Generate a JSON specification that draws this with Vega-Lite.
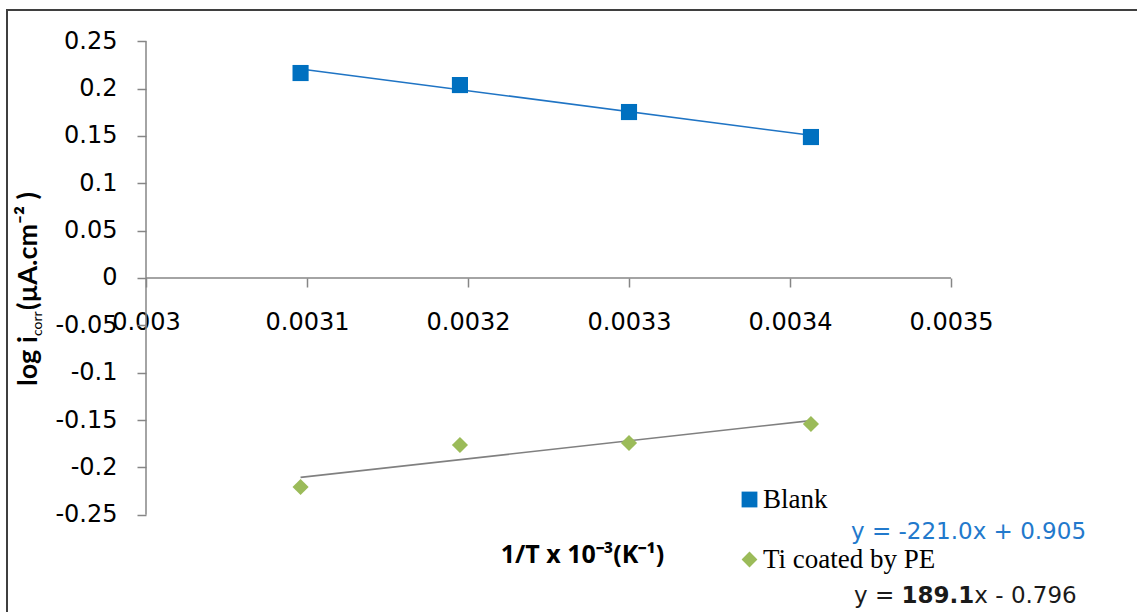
{
  "$schema": "https://vega.github.io/schema/vega-lite/v6.json",
  "width": 1140,
  "height": 610,
  "padding": {"left": 7, "top": 10, "right": 0, "bottom": 0},
  "background": "white",
  "config": {
    "view": {"stroke": "#3f3f3f", "strokeWidth": 2},
    "legend": {
      "orient": "none",
      "legendX": 729,
      "legendY": 476,
      "direction": "vertical",
      "title": null,
      "labelFont": "Liberation Serif",
      "labelFontSize": 27,
      "labelColor": "#000000",
      "labelLimit": 0,
      "symbolSize": 250,
      "rowPadding": 32,
      "labelOffset": 0,
      "padding": 0,
      "symbolStrokeWidth": 0
    }
  },
  "datasets": {
    "points": [
      {"invT": 0.003096, "logi": 0.2165, "series": "Blank"},
      {"invT": 0.003195, "logi": 0.2038, "series": "Blank"},
      {"invT": 0.0033, "logi": 0.1753, "series": "Blank"},
      {"invT": 0.003413, "logi": 0.1489, "series": "Blank"},
      {"invT": 0.003096, "logi": -0.2207, "series": "Ti coated by PE"},
      {"invT": 0.003195, "logi": -0.1764, "series": "Ti coated by PE"},
      {"invT": 0.0033, "logi": -0.1743, "series": "Ti coated by PE"},
      {"invT": 0.003413, "logi": -0.1542, "series": "Ti coated by PE"}
    ],
    "trend": [
      {"invT": 0.003096, "logi": 0.2208, "series": "Blank"},
      {"invT": 0.003413, "logi": 0.1507, "series": "Blank"},
      {"invT": 0.003096, "logi": -0.2106, "series": "Ti coated by PE"},
      {"invT": 0.003413, "logi": -0.1506, "series": "Ti coated by PE"}
    ]
  },
  "layer": [
    {
      "data": {"name": "points"},
      "mark": {"type": "point", "opacity": 0},
      "encoding": {
        "x": {
          "field": "invT", "type": "quantitative",
          "scale": {"domain": [0.00291366, 0.00362174], "nice": false, "zero": false},
          "axis": {
            "orient": "bottom", "offset": -342,
            "values": [0.003, 0.0031, 0.0032, 0.0033, 0.0034, 0.0035],
            "labelExpr": "'' + datum.value",
            "domain": false, "grid": false,
            "tickSize": 9, "tickColor": "#868686", "tickWidth": 1.5,
            "labelFont": "DejaVu Sans", "labelFontSize": 24, "labelColor": "#000000",
            "labelPadding": 23, "labelFlush": false, "labelOverlap": false,
            "title": "1/T x 10⁻³(K⁻¹)",
            "titleFont": "Open Sans", "titleFontSize": 25, "titleFontWeight": "bold", "titleColor": "#000000",
            "titleX": 575, "titleY": 276, "titleAlign": "center", "titleBaseline": "middle", "titleAnchor": null
          }
        },
        "y": {
          "field": "logi", "type": "quantitative",
          "scale": {"domain": [-0.36122, 0.28306], "nice": false, "zero": false},
          "axis": {
            "orient": "left", "offset": -139,
            "values": [-0.25, -0.2, -0.15, -0.1, -0.05, 0, 0.05, 0.1, 0.15, 0.2, 0.25],
            "labelExpr": "'' + datum.value",
            "domain": false, "grid": false,
            "tickSize": 9, "tickColor": "#868686", "tickWidth": 1.5,
            "labelFont": "DejaVu Sans", "labelFontSize": 24, "labelColor": "#000000",
            "labelPadding": 20, "labelFlush": false, "labelOverlap": false,
            "title": null
          }
        }
      }
    },
    {
      "data": {"values": [{}]},
      "mark": {"type": "rule", "color": "#868686", "strokeWidth": 1.5},
      "encoding": {"x": {"datum": 0.003}, "y": {"datum": -0.25}, "y2": {"datum": 0.25}}
    },
    {
      "data": {"values": [{}]},
      "mark": {"type": "rule", "color": "#868686", "strokeWidth": 1.5},
      "encoding": {"x": {"datum": 0.003}, "x2": {"datum": 0.0035}, "y": {"datum": 0}}
    },
    {
      "data": {"name": "trend"},
      "transform": [{"filter": "datum.series === 'Blank'"}],
      "mark": {"type": "line", "color": "#1f74c4", "strokeWidth": 1.6},
      "encoding": {"x": {"field": "invT", "type": "quantitative"}, "y": {"field": "logi", "type": "quantitative"}}
    },
    {
      "data": {"name": "trend"},
      "transform": [{"filter": "datum.series === 'Ti coated by PE'"}],
      "mark": {"type": "line", "color": "#808080", "strokeWidth": 1.6},
      "encoding": {"x": {"field": "invT", "type": "quantitative"}, "y": {"field": "logi", "type": "quantitative"}}
    },
    {
      "data": {"name": "points"},
      "mark": {"type": "point", "filled": true, "opacity": 1, "size": 260},
      "encoding": {
        "x": {"field": "invT", "type": "quantitative"},
        "y": {"field": "logi", "type": "quantitative"},
        "color": {"field": "series", "type": "nominal", "scale": {"domain": ["Blank", "Ti coated by PE"], "range": ["#0070C0", "#9BBB59"]}},
        "shape": {"field": "series", "type": "nominal", "scale": {"domain": ["Blank", "Ti coated by PE"], "range": ["square", "diamond"]}}
      }
    },
    {
      "data": {"values": [{}]},
      "mark": {"type": "text", "text": "log i", "font": "Lato", "fontSize": 27, "fontWeight": "bold", "angle": 270, "align": "left", "baseline": "alphabetic", "color": "#000000"},
      "encoding": {"x": {"datum": 0.0029323}, "y": {"datum": -0.1141}}
    },
    {
      "data": {"values": [{}]},
      "mark": {"type": "text", "text": "corr", "font": "Lato", "fontSize": 14, "angle": 270, "align": "left", "baseline": "alphabetic", "color": "#000000"},
      "encoding": {"x": {"datum": 0.0029354}, "y": {"datum": -0.0613}}
    },
    {
      "data": {"values": [{}]},
      "mark": {"type": "text", "text": "(µA.cm⁻² )", "font": "Lato", "fontSize": 27, "fontWeight": "bold", "angle": 270, "align": "left", "baseline": "alphabetic", "color": "#000000"},
      "encoding": {"x": {"datum": 0.0029323}, "y": {"datum": -0.0338}}
    },
    {
      "data": {"values": [{}]},
      "mark": {"type": "text", "text": "y = -221.0x + 0.905", "font": "DejaVu Sans", "fontSize": 23, "align": "left", "baseline": "middle", "color": "#2279CC"},
      "encoding": {"x": {"datum": 0.0034379}, "y": {"datum": -0.2683}}
    },
    {
      "data": {"values": [{}]},
      "mark": {"type": "text", "text": "y = ", "font": "DejaVu Sans", "fontSize": 23, "align": "left", "baseline": "middle", "color": "#1a1a1a"},
      "encoding": {"x": {"datum": 0.0034398}, "y": {"datum": -0.3359}}
    },
    {
      "data": {"values": [{}]},
      "mark": {"type": "text", "text": "189.1", "font": "DejaVu Sans", "fontSize": 23, "fontWeight": "bold", "align": "left", "baseline": "middle", "color": "#1a1a1a"},
      "encoding": {"x": {"datum": 0.0034693}, "y": {"datum": -0.3359}}
    },
    {
      "data": {"values": [{}]},
      "mark": {"type": "text", "text": "x - 0.796", "font": "DejaVu Sans", "fontSize": 23, "align": "left", "baseline": "middle", "color": "#1a1a1a"},
      "encoding": {"x": {"datum": 0.0035145}, "y": {"datum": -0.3359}}
    }
  ]
}
